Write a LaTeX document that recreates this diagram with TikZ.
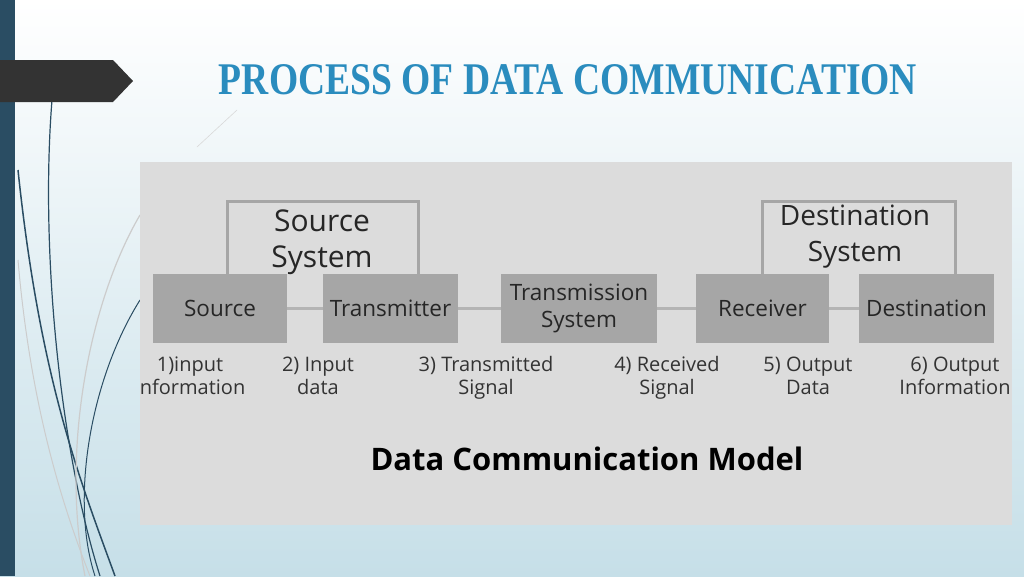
\documentclass[tikz,border=0pt]{standalone}
\usepackage{fontspec}
\usepackage{graphicx}
\setmainfont{Open Sans}
\newfontfamily\titlefont{Liberation Serif}
\definecolor{bar}{HTML}{2A4D63}
\definecolor{panel}{HTML}{DCDCDC}
\definecolor{boxc}{HTML}{A6A6A6}
\definecolor{linec}{HTML}{B4B4B4}
\definecolor{titlec}{HTML}{2A8CBE}
\definecolor{curve}{HTML}{2A4D63}
\definecolor{bgbot}{HTML}{C6DFE8}
\begin{document}
\begin{tikzpicture}[x=1pt,y=-1pt,
  blk/.style={fill=boxc,draw=none,minimum height=69pt,inner sep=0pt,align=center,font=\fontsize{22.5}{27}\selectfont,text=black!85},
  grp/.style={draw=boxc,line width=3pt},
  lbl/.style={anchor=north,align=center,font=\fontsize{20}{23}\selectfont,text=black!80},
  conn/.style={draw=linec,line width=3pt}]
\useasboundingbox (0,0) rectangle (1024,576);
\shade[top color=white,bottom color=bgbot] (0,0) rectangle (1024,576);
% decorative curves
\draw[curve,line width=1.2pt] (52,100) .. controls (40,250) and (60,450) .. (100,576);
\draw[curve,line width=1.5pt] (18,170) .. controls (40,380) and (80,480) .. (115,576);
\draw[curve,line width=1pt] (140,300) .. controls (90,380) and (70,500) .. (95,576);
\draw[gray!40,line width=1.2pt] (140,215) .. controls (90,300) and (60,450) .. (85,576);
\draw[gray!40,line width=1pt] (18,260) .. controls (30,400) and (60,500) .. (90,576);
\draw[gray!30,line width=0.6pt] (237,110) -- (197,147);
% left bar & arrow
\fill[bar] (0,0) rectangle (15,576);
\fill[black!80] (0,60) -- (113,60) -- (133,81) -- (113,102) -- (0,102) -- cycle;
% title
\node[text=titlec] (title) at (568,80) {\resizebox{698pt}{30pt}{\titlefont\bfseries PROCESS OF DATA COMMUNICATION}};
% panel
\fill[panel] (140,162) rectangle (1012,525);
\begin{scope}
\clip (140,162) rectangle (1012,525);
\draw[grp] (227,274) -- (227,201) -- (418,201) -- (418,274);
\draw[grp] (762,274) -- (762,201) -- (955,201) -- (955,274);
\node[align=center,font=\fontsize{30}{36}\selectfont,text=black!85] (ss) at (322,242) {Source\\System};
\node[align=center,font=\fontsize{28}{36}\selectfont,text=black!85] (ds) at (855,237) {Destination\\System};
\node[blk,minimum width=134pt] (src) at (220,308.5) {Source};
\node[blk,minimum width=135pt] (tx) at (390.5,308.5) {Transmitter};
\node[blk,minimum width=156pt] (ts) at (579,308.5) {Transmission\\System};
\node[blk,minimum width=133pt] (rx) at (762.5,308.5) {Receiver};
\node[blk,minimum width=135pt] (dst) at (926.5,308.5) {Destination};
\draw[conn] (src) -- (tx);
\draw[conn] (tx) -- (ts);
\draw[conn] (ts) -- (rx);
\draw[conn] (rx) -- (dst);
\node[lbl] (l1) at (190,353) {1)input\\information};
\node[lbl] (l2) at (318,353) {2) Input\\data};
\node[lbl] (l3) at (486,353) {3) Transmitted\\Signal};
\node[lbl] (l4) at (667,353) {4) Received\\Signal};
\node[lbl] (l5) at (808,353) {5) Output\\Data};
\node[lbl] (l6) at (955,353) {6) Output\\Information};
\node[font=\fontsize{31}{34}\selectfont\bfseries] (cap) at (587,459) {Data Communication Model};
\end{scope}
\end{tikzpicture}
\end{document}
